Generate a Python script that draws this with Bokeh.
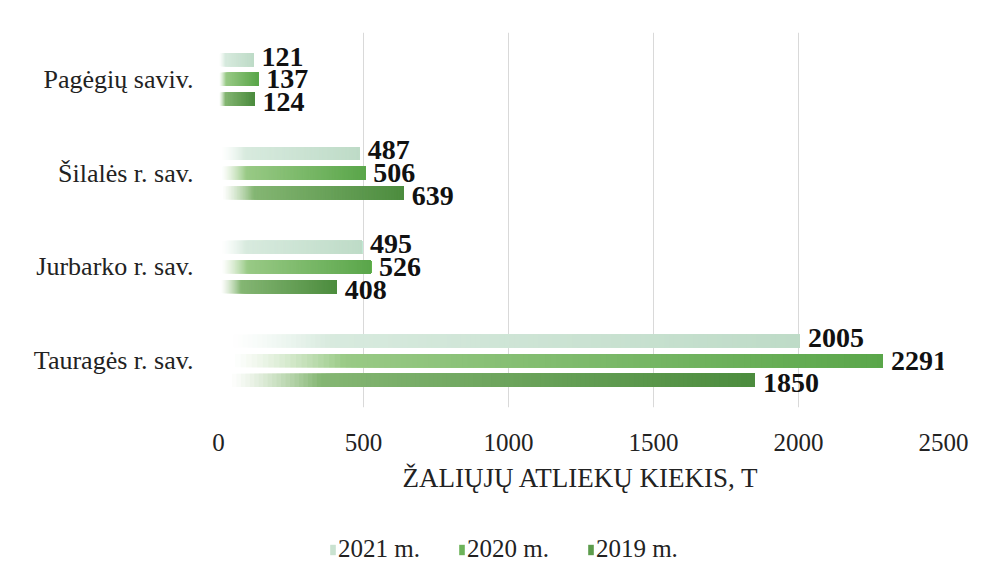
from bokeh.plotting import figure
from bokeh.layouts import column
from bokeh.models import ColumnDataSource, Legend, LegendItem, FixedTicker
from bokeh.core.properties import value
from bokeh.embed import file_html
from bokeh.resources import INLINE

# ---- data ----
categories = ["Tauragės r. sav.", "Jurbarko r. sav.", "Šilalės r. sav.", "Pagėgių saviv."]
series_names = ["2021 m.", "2020 m.", "2019 m."]
values_2021 = [2005, 495, 487, 121]
values_2020 = [2291, 526, 506, 137]
values_2019 = [1850, 408, 639, 124]
x_ticks = [0, 500, 1000, 1500, 2000, 2500]
axis_title = "ŽALIŲJŲ ATLIEKŲ KIEKIS, T"

series_values = [values_2021, values_2020, values_2019]
offsets = [0.21, 0.0, -0.21]
label_dy = [-3, 0, 3]
light_cols = [(222, 238, 228), (168, 210, 148), (146, 192, 128)]
dark_cols = [(190, 219, 199), (90, 166, 74), (76, 140, 62)]
legend_cols = ["#c9e2d0", "#6db35a", "#5c9c4c"]

FONT = "Liberation Serif"


def blend(c, a):
    return tuple(int(round(255 + (c[k] - 255) * a)) for k in range(3))


p = figure(width=969, height=520, output_backend="svg", toolbar_location=None,
           x_range=(0, 2500), y_range=(-0.5, 3.5),
           min_border_left=218, min_border_right=26, min_border_top=32, min_border_bottom=113)
p.outline_line_color = None
p.background_fill_color = "white"
p.border_fill_color = "white"

# gradient bars: each step covers from its start to the bar end (no seams)
N = 120
for s, vals in enumerate(series_values):
    lefts, rights, ys, cols = [], [], [], []
    for i in range(N):
        t = (i + 0.5) / N
        a = min(1.0, max(0.0, (t - 0.02) / 0.17)) ** 1.2
        for ci, v in enumerate(vals):
            c = tuple(light_cols[s][k] + (dark_cols[s][k] - light_cols[s][k]) * t for k in range(3))
            lefts.append(v * i / N)
            rights.append(v)
            ys.append(ci + offsets[s])
            cols.append("#%02x%02x%02x" % blend(c, a))
    src = ColumnDataSource(dict(left=lefts, right=rights, y=ys, color=cols))
    p.hbar(y="y", left="left", right="right", height=0.14, source=src,
           fill_color="color", line_color=None)

# value labels
for s, vals in enumerate(series_values):
    lsrc = ColumnDataSource(dict(x=vals, y=[ci + offsets[s] for ci in range(len(vals))],
                                 t=[str(v) for v in vals]))
    p.text(x="x", y="y", text="t", source=lsrc, x_offset=8, y_offset=label_dy[s],
           text_font=value(FONT), text_font_style="bold", text_font_size="28px",
           text_color="#111111", text_align="left", text_baseline="middle")

# axes
p.xaxis.ticker = FixedTicker(ticks=x_ticks)
p.xaxis.axis_line_color = None
p.xaxis.major_tick_line_color = None
p.xaxis.minor_tick_line_color = None
p.xaxis.major_label_standoff = 20
p.xaxis.major_label_text_font = FONT
p.xaxis.major_label_text_font_size = "25px"
p.xaxis.major_label_text_color = "#222222"
p.xaxis.axis_label = axis_title
p.xaxis.axis_label_standoff = 9
p.xaxis.axis_label_text_font = FONT
p.xaxis.axis_label_text_font_size = "27px"
p.xaxis.axis_label_text_font_style = "normal"
p.xaxis.axis_label_text_color = "#222222"

p.yaxis.ticker = FixedTicker(ticks=list(range(len(categories))))
p.yaxis.major_label_overrides = {i: c for i, c in enumerate(categories)}
p.yaxis.axis_line_color = None
p.yaxis.major_tick_line_color = None
p.yaxis.minor_tick_line_color = None
p.yaxis.major_label_standoff = 19
p.yaxis.major_label_text_font = FONT
p.yaxis.major_label_text_font_size = "26px"
p.yaxis.major_label_text_color = "#222222"

p.xgrid.grid_line_color = "#d9d9d9"
p.xgrid.grid_line_width = 1
p.ygrid.grid_line_color = None

# legend in a small strip figure below
q = figure(width=969, height=43, output_backend="svg", toolbar_location=None,
           x_range=(0, 1), y_range=(0, 1), x_axis_location=None, y_axis_location=None,
           min_border_left=0, min_border_right=0, min_border_top=0, min_border_bottom=0)
q.outline_line_color = None
q.grid.grid_line_color = None
q.background_fill_color = "white"
q.border_fill_color = "white"

items = []
for s in range(3):
    r = q.hbar(y=[0.5], left=[0], right=[0], height=0.1, fill_color=legend_cols[s], line_color=None)
    items.append(LegendItem(label=series_names[s], renderers=[r]))

legend = Legend(items=items, orientation="horizontal", location=(111, 0),
                label_text_font=FONT, label_text_font_size="25px", label_text_color="#222222",
                glyph_width=7, glyph_height=13, label_standoff=2, spacing=38,
                padding=2, margin=0, border_line_color=None, background_fill_alpha=0)
q.add_layout(legend, "center")

layout = column(p, q, spacing=0)
open("out.html", "w").write(file_html(layout, INLINE))
